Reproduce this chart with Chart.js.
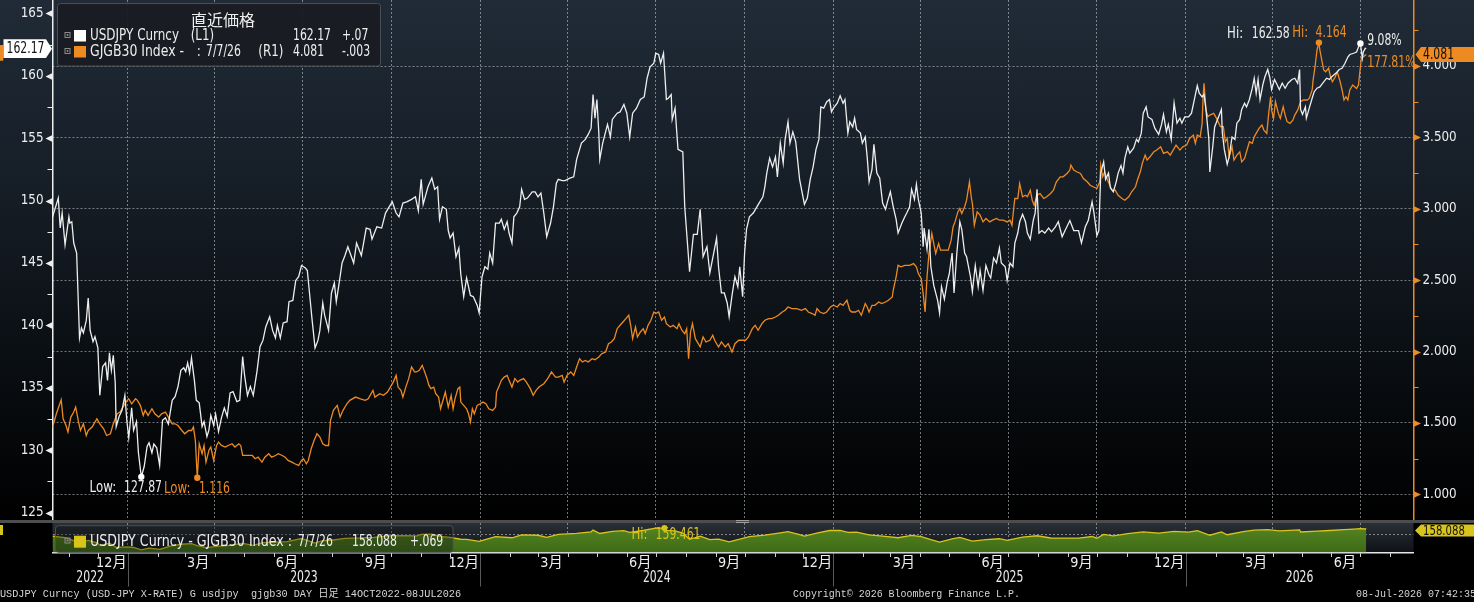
<!DOCTYPE html>
<html lang="ja">
<head>
<meta charset="utf-8">
<title>USDJPY Curncy / GJGB30 Index</title>
<script src="https://cdn.jsdelivr.net/npm/chart.js@4.4.1/dist/chart.umd.min.js"></script>
<style>
html,body{margin:0;padding:0;background:#000;width:1474px;height:602px;overflow:hidden;}
#top{position:absolute;left:0;top:0;width:1474px;height:520px;background:linear-gradient(to bottom,#202b37 0%,#161e27 35%,#0a0e12 70%,#000 100%);}
#sep{position:absolute;left:0;top:520px;width:1474px;height:3px;background:#4d4d4d;}
#grip{position:absolute;left:736px;top:520px;width:13px;height:3px;border-top:1px solid #a0a0a0;border-bottom:1px solid #a0a0a0;box-sizing:border-box;}
#bot{position:absolute;left:0;top:523px;width:1474px;height:79px;background:#000;}
</style>
</head>
<body>
<div id="top"><canvas id="mainChart"></canvas></div>
<div id="sep"></div><div id="grip"></div>
<div id="bot"><canvas id="spreadChart"></canvas></div>
<script>
// ---------------- DATA (x = days since 2023-01-01) ----------------
const usdDays = [
-78,-72,-70,-68,-65,-61,-60,-58,-56,-53,
-50,-48,-46,-43,-41,-39,-36,-34,-31,-29,
-26,-23,-21,-19,-17,-15,-13,-12,-9,-6,
-3,-1,1,4,6,9,11,14,17,20,
22,25,27,30,33,36,39,42,46,49,
52,55,58,60,62,64,66,69,71,74,
77,79,82,84,86,89,91,94,97,100,
103,106,109,113,116,119,121,124,127,130,
134,137,140,143,147,150,153,155,158,161,
165,167,171,174,177,180,184,186,189,191,
194,197,199,202,204,208,211,214,216,219,
222,225,228,234,237,242,247,251,253,258,
263,267,270,274,278,281,285,289,294,298,
301,304,306,311,315,318,321,323,326,330,
332,334,337,340,343,345,348,351,355,358,
362,364,367,370,373,375,378,381,385,387,
390,393,395,398,400,403,406,408,411,414,
419,422,425,428,431,434,438,441,444,446,
450,453,458,462,465,470,474,477,480,482,
484,486,488,489,492,495,497,500,502,507,
510,514,517,520,523,527,531,535,538,541,
545,547,550,552,555,558,560,563,564,567,
570,575,577,582,586,590,593,596,600,603,
607,610,612,615,618,621,623,626,629,632,
634,637,639,641,644,648,651,654,658,660,
662,665,668,671,673,676,679,681,684,686,
689,692,696,698,701,704,707,710,713,716,
718,721,724,727,729,731,735,738,741,743,
746,748,751,753,755,759,761,764,766,768,
771,773,776,779,782,785,787,790,793,796,
798,802,805,807,810,812,815,817,819,822,
824,825,828,830,832,835,837,839,841,843,
846,849,851,854,856,859,862,864,867,869,
873,875,878,881,883,886,889,892,894,897,
900,903,905,909,911,914,917,919,922,924,
927,930,932,935,938,940,942,944,947,950,
954,957,961,964,968,971,976,980,985,988,
992,995,999,1001,1004,1006,1008,1011,1013,1016,
1018,1021,1024,1026,1029,1031,1033,1036,1038,1042,
1045,1047,1050,1052,1055,1057,1061,1064,1068,1071,
1073,1076,1078,1081,1084,1087,1090,1092,1095,1099,
1102,1105,1108,1110,1113,1115,1117,1120,1121,1124,
1126,1129,1133,1134,1136,1139,1141,1144,1147,1149,
1152,1154,1157,1159,1162,1165,1167,1169,1171,1173,
1176,1178,1181,1183,1185,1188,1190,1193,1196,1199,
1202,1206,1209,1212,1214,1215,1217,1220,1221,1224,
1227,1229,1232,1235,1237,1239,1242,1245,1247,1250,
1253,1255,1258,1261,1264,1266,1270,1273,1275,1277,
1279,1280,1282,1283];
const usdVals = [
148.67,150.2,147.8,149.0,146.45,148.7,148.2,148.3,146.6,145.8,
139.0,139.8,139.4,140.4,142.2,139.6,138.7,139.1,138.2,134.4,
136.7,137.0,135.6,137.8,136.4,137.6,135.4,131.9,132.7,133.2,
134.4,132.4,131.0,133.4,131.6,132.3,129.8,127.87,128.7,130.3,
130.6,129.8,130.5,130.2,128.8,132.4,132.6,132.1,134.0,134.3,
135.1,136.4,136.6,136.3,137.0,136.2,137.4,135.6,134.0,133.8,
131.9,132.3,131.1,131.6,132.8,132.0,132.9,131.5,132.6,133.4,
132.7,134.6,134.7,133.9,134.0,137.5,136.0,134.4,135.1,134.4,
136.4,138.3,138.8,139.9,140.7,139.6,139.0,140.0,139.0,140.2,
140.3,141.9,142.0,143.6,143.9,144.8,144.6,144.4,142.0,140.4,
138.2,138.8,139.6,141.8,140.8,139.6,142.6,143.4,141.9,143.4,
145.0,145.6,146.3,145.0,146.6,145.6,147.8,147.7,146.9,147.9,
147.8,149.0,149.4,149.9,149.0,148.7,149.8,149.9,150.1,150.3,
149.2,151.7,149.7,151.1,151.8,150.9,151.1,148.5,149.5,149.3,
147.6,147.0,147.4,145.5,146.2,144.1,142.3,143.8,142.4,142.3,
141.6,141.0,143.9,144.7,144.5,145.8,145.0,148.2,148.2,148.5,
147.7,148.3,147.4,146.6,148.7,149.0,149.5,150.9,150.1,150.2,
150.7,150.7,150.3,150.6,149.0,147.1,148.2,149.5,151.4,151.7,
151.6,151.6,151.8,151.9,153.3,154.6,154.9,155.3,155.8,158.5,
156.6,158.1,155.4,153.3,154.6,155.5,156.1,155.1,156.5,157.0,
157.1,157.7,157.0,155.1,157.0,157.4,158.1,158.3,159.8,160.7,
161.0,161.8,161.7,161.0,161.8,158.1,158.2,158.5,156.5,157.4,
154.1,153.9,149.5,144.3,147.3,147.3,149.3,145.5,146.3,144.2,
145.8,147.0,144.7,142.6,142.6,141.8,140.7,142.4,143.9,143.1,
144.7,142.3,145.8,147.7,148.7,149.0,149.4,149.8,150.3,151.1,
152.2,153.4,152.7,153.5,151.9,154.6,153.0,154.9,156.3,154.6,
155.5,154.7,151.7,150.9,149.7,150.2,151.7,152.7,154.1,154.9,
157.5,157.4,157.9,158.1,157.1,157.4,157.8,158.4,157.8,158.1,
155.4,156.3,155.9,156.6,155.7,155.4,154.6,155.1,153.5,151.5,
152.5,154.5,152.2,151.8,149.8,149.3,149.9,150.7,149.5,148.5,
147.4,148.2,148.7,149.0,149.5,150.9,150.1,151.3,150.1,149.0,
146.3,147.8,146.1,147.7,144.7,143.2,142.6,142.0,141.0,143.1,
142.1,143.5,144.1,145.8,142.6,145.9,148.3,147.7,145.8,145.5,
143.9,142.7,144.8,143.1,144.4,142.8,144.8,144.1,143.8,145.4,
145.0,146.2,145.0,144.7,143.6,145.0,144.7,146.6,147.4,148.3,
148.9,148.3,147.4,146.9,148.4,149.0,150.9,147.4,147.6,147.4,
147.8,147.5,147.9,148.3,147.1,147.6,148.4,147.6,147.6,146.6,
147.9,148.4,149.9,149.0,147.2,147.6,152.2,153.1,151.7,152.2,
151.0,150.7,151.5,152.2,152.8,152.2,153.4,154.3,153.8,154.2,
154.9,154.7,155.4,157.0,157.5,156.7,156.5,155.8,155.3,156.1,
156.9,155.5,156.1,154.9,157.8,156.2,156.6,156.2,156.7,156.7,
157.0,158.1,159.2,158.6,158.3,158.5,157.3,154.9,152.3,154.3,
155.9,156.5,157.3,155.4,154.1,152.9,153.5,155.1,154.9,156.2,
156.5,157.3,157.8,157.5,158.1,159.0,159.8,158.6,159.7,158.1,
159.3,159.9,160.5,159.9,158.9,159.7,159.4,158.9,159.4,159.0,
159.4,159.7,159.8,159.4,160.5,157.3,156.9,157.5,156.6,157.4,
158.2,158.7,159.0,159.1,159.3,159.5,159.8,159.7,159.9,160.1,
160.3,160.5,160.6,161.0,161.5,161.7,161.8,161.9,162.3,162.58,
161.4,161.9,162.2,162.17];

const jgbDays = [
-78,-74,-69,-67,-64,-62,-59,-56,-54,-51,
-49,-46,-43,-41,-37,-34,-32,-29,-25,-22,
-18,-15,-11,-8,-5,-2,1,4,8,10,
13,16,18,21,25,28,32,35,39,42,
46,49,52,56,59,63,66,68,70,72,
74,77,79,81,84,86,89,92,94,97,
101,104,108,111,115,117,119,123,129,132,
135,139,142,146,149,153,156,160,163,166,
170,173,177,180,182,185,187,190,193,196,
199,202,205,208,210,213,217,220,223,227,
230,236,241,246,249,254,256,261,265,269,
272,275,278,280,283,285,288,291,294,297,
299,302,305,307,310,312,314,317,319,322,
324,327,329,332,335,337,339,342,344,345,
348,351,353,355,357,359,362,365,368,371,
374,378,381,382,385,387,390,393,395,398,
401,404,406,410,413,417,420,423,426,431,
435,439,443,446,450,452,455,459,462,465,
468,471,474,477,481,484,488,491,495,498,
501,504,507,510,513,516,519,521,523,526,
528,531,534,536,539,542,545,547,550,553,
556,558,562,565,569,571,574,577,579,581,
583,585,588,591,593,596,599,603,606,608,
612,615,619,622,626,629,633,636,640,643,
647,650,653,657,660,664,667,671,674,678,
681,684,688,693,698,702,705,709,712,714,
717,721,724,728,731,735,738,741,745,748,
750,754,757,760,764,766,768,771,774,778,
781,785,788,792,793,796,798,801,805,810,
814,817,819,822,824,826,828,830,833,835,
837,840,842,846,850,853,855,857,860,862,
864,867,869,872,874,875,877,880,883,886,
889,893,896,900,903,907,911,914,916,918,
919,922,924,927,930,932,935,937,939,942,
945,949,952,956,959,962,966,969,973,976,
977,980,983,987,990,994,997,1000,1004,1007,
1008,1010,1012,1015,1018,1020,1023,1026,1030,1033,
1037,1040,1044,1046,1049,1051,1054,1056,1059,1063,
1066,1070,1073,1077,1080,1083,1086,1090,1093,1097,
1100,1104,1106,1108,1111,1113,1114,1115,1117,1119,
1121,1125,1128,1132,1135,1137,1139,1141,1144,1146,
1149,1152,1154,1157,1159,1162,1165,1167,1170,1172,
1175,1177,1180,1182,1184,1185,1187,1189,1192,1194,
1197,1199,1201,1204,1207,1209,1212,1215,1218,1222,
1224,1227,1228,1230,1232,1234,1235,1237,1239,1241,
1244,1246,1248,1251,1253,1256,1258,1260,1262,1264,
1266,1269,1271,1273,1275,1277,1278,1280,1283];
const jgbVals = [
1.469,1.564,1.662,1.529,1.482,1.436,1.541,1.576,1.611,1.506,
1.447,1.494,1.412,1.447,1.471,1.506,1.529,1.494,1.459,1.412,
1.424,1.494,1.564,1.576,1.611,1.646,1.669,1.634,1.669,1.658,
1.623,1.553,1.588,1.553,1.599,1.564,1.541,1.564,1.576,1.541,
1.494,1.494,1.482,1.447,1.424,1.447,1.447,1.471,1.377,1.116,
1.354,1.284,1.342,1.225,1.307,1.331,1.237,1.342,1.366,1.342,
1.331,1.342,1.354,1.331,1.354,1.342,1.272,1.272,1.272,1.249,
1.260,1.225,1.260,1.284,1.260,1.272,1.284,1.272,1.260,1.237,
1.225,1.214,1.202,1.237,1.249,1.214,1.237,1.319,1.377,1.424,
1.401,1.354,1.342,1.342,1.517,1.588,1.623,1.541,1.588,1.634,
1.658,1.681,1.669,1.658,1.669,1.728,1.681,1.705,1.693,1.716,
1.751,1.786,1.833,1.751,1.728,1.681,1.751,1.810,1.892,1.857,
1.857,1.868,1.903,1.868,1.810,1.763,1.740,1.751,1.705,1.681,
1.599,1.669,1.716,1.611,1.693,1.599,1.669,1.740,1.751,1.646,
1.623,1.599,1.564,1.506,1.599,1.564,1.623,1.634,1.646,1.634,
1.599,1.588,1.611,1.716,1.763,1.798,1.821,1.833,1.798,1.751,
1.810,1.786,1.798,1.810,1.786,1.740,1.693,1.728,1.751,1.775,
1.810,1.857,1.821,1.821,1.833,1.786,1.833,1.857,1.833,1.892,
1.950,1.927,1.938,1.927,1.950,1.943,1.962,1.985,1.997,2.055,
2.067,2.090,2.160,2.184,2.207,2.231,2.254,2.184,2.090,2.172,
2.102,2.137,2.160,2.125,2.184,2.219,2.277,2.266,2.277,2.219,
2.242,2.195,2.172,2.184,2.160,2.195,2.149,2.125,2.160,1.950,
2.137,2.195,2.090,2.055,2.032,2.102,2.067,2.079,2.114,2.079,
2.032,2.067,2.032,2.055,1.997,2.055,2.079,2.079,2.079,2.102,
2.160,2.184,2.149,2.195,2.219,2.231,2.231,2.242,2.254,2.277,
2.289,2.312,2.301,2.301,2.289,2.301,2.277,2.266,2.254,2.301,
2.277,2.266,2.277,2.312,2.324,2.312,2.336,2.324,2.359,2.289,
2.277,2.277,2.289,2.254,2.336,2.312,2.277,2.324,2.324,2.347,
2.336,2.347,2.359,2.382,2.429,2.523,2.604,2.593,2.604,2.604,
2.616,2.593,2.546,2.511,2.406,2.277,2.523,2.686,2.827,2.756,
2.686,2.756,2.710,2.710,2.710,2.780,2.873,2.908,2.978,3.002,
2.967,3.014,3.060,3.189,3.072,3.037,2.885,2.978,2.955,2.908,
2.932,2.908,2.920,2.932,2.920,2.920,2.908,2.920,2.885,3.014,
3.072,3.072,3.177,3.084,3.095,3.084,3.130,3.060,3.025,3.095,
3.107,3.072,3.084,3.107,3.130,3.189,3.224,3.224,3.247,3.271,
3.306,3.271,3.259,3.247,3.212,3.189,3.165,3.154,3.142,3.189,
3.306,3.224,3.259,3.201,3.154,3.130,3.130,3.095,3.072,3.060,
3.084,3.119,3.154,3.201,3.259,3.317,3.376,3.341,3.364,3.399,
3.411,3.434,3.388,3.399,3.376,3.411,3.446,3.411,3.434,3.446,
3.493,3.516,3.458,3.516,3.504,3.598,3.785,3.878,3.691,3.645,
3.656,3.668,3.633,3.575,3.575,3.469,3.493,3.364,3.434,3.341,
3.376,3.399,3.329,3.353,3.399,3.469,3.458,3.504,3.540,3.563,
3.586,3.551,3.528,3.668,3.785,3.691,3.633,3.750,3.668,3.633,
3.715,3.656,3.610,3.598,3.621,3.656,3.691,3.750,3.762,3.762,
3.773,3.832,3.902,3.995,4.112,4.164,4.112,4.042,3.972,3.960,
3.984,3.925,3.890,3.925,3.960,3.890,3.832,3.762,3.785,3.762,
3.832,3.867,3.855,3.843,3.867,3.995,4.054,4.065,4.081];

const spreadDays = [
-78,-65,-50,-41,-31,-29,-19,-12,0,6,
14,22,33,45,55,66,72,82,90,105,
119,130,140,150,165,180,194,202,211,225,
240,255,270,285,300,304,315,323,334,345,
351,364,381,398,408,425,434,446,465,480,
482,489,502,514,520,535,547,556,558,567,
575,582,593,603,612,623,634,644,660,676,
684,696,701,716,727,738,746,755,768,782,
798,812,822,832,841,854,862,875,889,903,
911,927,942,956,970,985,999,1004,1011,1021,
1036,1052,1068,1084,1099,1108,1121,1133,1139,1157,
1167,1181,1193,1214,1215,1232,1245,1260,1270,1277,
1283];
const spreadVals = [
147.2,145.0,137.5,140.8,136.7,132.9,136.4,130.3,130.8,130.0,
126.3,129.0,127.3,132.5,134.9,135.9,132.8,129.9,131.2,133.3,
136.2,133.2,137.5,138.3,139.0,143.6,136.8,140.4,141.0,144.0,
144.5,145.5,147.7,148.1,147.6,149.8,150.1,146.8,145.3,142.5,
142.2,139.4,146.6,144.8,149.1,148.6,145.3,149.9,151.4,153.8,
156.5,151.3,154.4,155.5,152.9,156.2,159.3,159.461,155.9,155.2,
151.8,142.4,147.3,142.1,142.7,138.6,142.6,146.6,148.9,152.3,
154.0,149.4,147.4,152.6,155.8,156.1,153.1,153.4,149.2,147.4,
144.8,148.3,146.5,142.0,138.3,143.0,145.3,139.7,141.9,143.3,
140.7,145.8,147.8,144.4,144.3,144.3,146.7,144.1,149.9,147.6,
151.2,153.7,151.9,154.4,153.2,155.7,148.6,153.7,149.4,154.4,
156.3,157.0,155.3,156.8,153.6,154.9,155.8,157.2,157.9,158.6,
158.088];

const legendTitle = '直近価格';
const usdName = 'USDJPY Curncy', jgbName = 'GJGB30 Index -', spreadName = 'USDJPY Curncy - GJGB30 Index :';
const lastDate = '7/7/26';
const usdChange = '+.07', jgbChange = '-.003', spreadChange = '+.069';
const monthLabelMonths = [12, 3, 6, 9];
const yearLabels = [2022, 2023, 2024, 2025, 2026];
const footerLeft = 'USDJPY Curncy (USD-JPY X-RATE) G usdjpy  gjgb30 DAY 日足 14OCT2022-08JUL2026';
const footerMid = 'Copyright© 2026 Bloomberg Finance L.P.';
const footerRight = '08-Jul-2026 07:42:35';

// ---------------- helpers ----------------
const FONT = '"DejaVu Sans Condensed","Liberation Sans","Noto Sans CJK JP",sans-serif';
const CJK = '"Noto Sans CJK JP",sans-serif';
const MONO = '"Liberation Mono","DejaVu Sans Mono","Noto Sans CJK JP",monospace';
const WHITE = '#eeeeee', ORANGE = '#ee8a22', YELLOW = '#d9c41c', GRID = 'rgba(205,210,215,0.55)';

// condensing factors: the terminal font has narrow digits (~6.9px) but relatively wider letters
const _m = document.createElement('canvas').getContext('2d');
_m.font = '15px ' + FONT;
const DIGIT15 = _m.measureText('0123456789').width / 10;
const SX_D = 6.9 / DIGIT15;
const SX_A = SX_D * 1.12;
const TICK_SIZE = Math.max(11, Math.min(15, 15 * 7.6 / DIGIT15));
function sxFor(s) {
  let nd = 0, na = 0;
  for (const ch of s) { if (/[0-9.+\-\/:%, ]/.test(ch)) nd++; else na++; }
  return (nd * SX_D + na * SX_A) / Math.max(1, nd + na);
}

const DAY0 = Date.UTC(2023, 0, 1);
const dayOf = (y, m, d) => Math.round((Date.UTC(y, m - 1, d) - DAY0) / 864e5);
const X_MIN = -78, X_MAX = 1332;
const quarterStarts = [], monthStarts = [], labelTicks = [];
for (let y = 2022; y <= 2026; y++) for (let m = 1; m <= 12; m++) {
  const d = dayOf(y, m, 1);
  if (d >= X_MIN && d <= X_MAX) { monthStarts.push(d); if ((m - 1) % 3 === 0) quarterStarts.push(d); }
  const mid = dayOf(y, m, 15);
  if (monthLabelMonths.includes(m) && mid >= X_MIN && mid <= X_MAX) labelTicks.push({ value: mid, label: m + '月' });
}
const argMin = a => a.indexOf(Math.min(...a));
const argMax = a => a.indexOf(Math.max(...a));
const isHalf = v => Math.abs(v * 2 - Math.round(v * 2)) < 1e-6;
function fixW(w) { return s => { s.width = w; s.paddingTop = 0; s.paddingBottom = 0; }; }

function rrect(ctx, x, y, w, h, r) {
  ctx.beginPath(); ctx.moveTo(x + r, y); ctx.lineTo(x + w - r, y); ctx.quadraticCurveTo(x + w, y, x + w, y + r);
  ctx.lineTo(x + w, y + h - r); ctx.quadraticCurveTo(x + w, y + h, x + w - r, y + h); ctx.lineTo(x + r, y + h);
  ctx.quadraticCurveTo(x, y + h, x, y + h - r); ctx.lineTo(x, y + r); ctx.quadraticCurveTo(x, y, x + r, y); ctx.closePath();
}
function text(ctx, s, x, y, color, opt = {}) {
  ctx.save();
  ctx.font = (opt.size || 15) + 'px ' + (opt.family || FONT);
  ctx.fillStyle = color; ctx.textAlign = opt.align || 'left'; ctx.textBaseline = 'middle';
  let k = opt.sx !== undefined ? opt.sx : sxFor(s);
  if (opt.fit) k = opt.fit / ctx.measureText(s).width;
  ctx.translate(x, y); ctx.scale(k, 1); ctx.fillText(s, 0, 0);
  ctx.restore();
}
function plusIcon(ctx, x, y) {
  ctx.save(); ctx.strokeStyle = '#8c8c8c'; ctx.lineWidth = 1; ctx.strokeRect(x + 0.5, y + 0.5, 5, 5);
  ctx.beginPath(); ctx.moveTo(x + 2, y + 3); ctx.lineTo(x + 4, y + 3); ctx.moveTo(x + 3, y + 2); ctx.lineTo(x + 3, y + 4); ctx.stroke(); ctx.restore();
}
function dot(ctx, x, y, r, c) { ctx.save(); ctx.fillStyle = c; ctx.beginPath(); ctx.arc(x, y, r, 0, Math.PI * 2); ctx.fill(); ctx.restore(); }

Chart.defaults.font.family = FONT;

// ---------------- main panel decorations ----------------
const mainDecor = {
  id: 'mainDecor',
  afterDraw(chart) {
    const { ctx, chartArea: a, scales: { x, yL, yR } } = chart;
    ctx.save();
    yL.ticks.forEach(t => {
      const y = Math.round(yL.getPixelForValue(t.value)) + 0.5;
      ctx.fillStyle = WHITE; ctx.strokeStyle = WHITE; ctx.lineWidth = 1;
      if (t.value % 5 === 0) { ctx.beginPath(); ctx.moveTo(a.left - 7, y); ctx.lineTo(a.left, y - 3.5); ctx.lineTo(a.left, y + 3.5); ctx.closePath(); ctx.fill(); }
      else { ctx.beginPath(); ctx.moveTo(a.left - 5, y); ctx.lineTo(a.left, y); ctx.stroke(); }
    });
    yR.ticks.forEach(t => {
      const y = Math.round(yR.getPixelForValue(t.value)) + 0.5;
      ctx.fillStyle = ORANGE; ctx.strokeStyle = ORANGE; ctx.lineWidth = 1;
      if (isHalf(t.value)) { ctx.beginPath(); ctx.moveTo(a.right, y - 3.5); ctx.lineTo(a.right + 7.5, y); ctx.lineTo(a.right, y + 3.5); ctx.closePath(); ctx.fill(); }
      else { ctx.beginPath(); ctx.moveTo(a.right, y); ctx.lineTo(a.right + 5, y); ctx.stroke(); }
    });

    // legend box
    rrect(ctx, 57.5, 3.5, 323, 62.5, 3);
    ctx.fillStyle = 'rgba(25,29,34,0.94)'; ctx.fill();
    ctx.strokeStyle = '#4a4f55'; ctx.lineWidth = 1; ctx.stroke();
    text(ctx, legendTitle, 223, 20, WHITE, { size: 16, align: 'center', family: CJK, sx: 1 });
    const uLast = usdVals[usdVals.length - 1], jLast = jgbVals[jgbVals.length - 1];
    plusIcon(ctx, 64.5, 32); ctx.fillStyle = '#ffffff'; ctx.fillRect(74, 30, 12, 11.5);
    text(ctx, usdName, 90, 36, WHITE, { fit: 89 }); text(ctx, '(L1)', 190.7, 36, WHITE);
    text(ctx, uLast.toFixed(2), 293, 36, WHITE); text(ctx, usdChange, 342, 36, WHITE);
    plusIcon(ctx, 64.5, 48); ctx.fillStyle = ORANGE; ctx.fillRect(74, 46, 12, 11.5);
    text(ctx, jgbName, 90, 52, WHITE, { fit: 94 }); text(ctx, ':', 197, 52, WHITE); text(ctx, lastDate, 206, 52, WHITE);
    text(ctx, '(R1)', 258.3, 52, WHITE); text(ctx, jLast.toFixed(3), 293, 52, WHITE); text(ctx, jgbChange, 342, 52, WHITE);

    // lows
    let i = argMin(usdVals), px = x.getPixelForValue(usdDays[i]), py = yL.getPixelForValue(usdVals[i]);
    dot(ctx, px, py, 3.2, '#ffffff');
    text(ctx, 'Low:', px - 51.7, py + 11, WHITE); text(ctx, usdVals[i].toFixed(2), px + 20.7, py + 11, WHITE, { align: 'right' });
    i = argMin(jgbVals); px = x.getPixelForValue(jgbDays[i]); py = yR.getPixelForValue(jgbVals[i]);
    dot(ctx, px, py, 3.2, ORANGE);
    text(ctx, 'Low:', px - 33.3, py + 11, ORANGE); text(ctx, jgbVals[i].toFixed(3), px + 32.7, py + 11, ORANGE, { align: 'right' });
    // highs
    i = argMax(usdVals); px = x.getPixelForValue(usdDays[i]); py = yL.getPixelForValue(usdVals[i]);
    dot(ctx, px, py, 3.2, '#ffffff');
    text(ctx, 'Hi:', px - 133.3, py - 9, WHITE); text(ctx, usdVals[i].toFixed(2), px - 70.7, py - 9, WHITE, { align: 'right' });
    i = argMax(jgbVals); px = x.getPixelForValue(jgbDays[i]); py = yR.getPixelForValue(jgbVals[i]);
    dot(ctx, px, py, 3.2, ORANGE);
    text(ctx, 'Hi:', px - 26.6, py - 9.4, ORANGE); text(ctx, jgbVals[i].toFixed(3), px + 27.7, py - 9.4, ORANGE, { align: 'right' });

    // % change labels at last points
    const lx = x.getPixelForValue(usdDays[usdDays.length - 1]);
    const uy = yL.getPixelForValue(uLast), jy = yR.getPixelForValue(jLast);
    const uPct = (uLast / usdVals[0] - 1) * 100, jPct = (jLast / jgbVals[0] - 1) * 100;
    text(ctx, uPct.toFixed(2) + '%', lx + 1, uy - 8, WHITE);
    text(ctx, jPct.toFixed(2) + '%', lx + 1, jy + 9, ORANGE);

    // last value boxes
    ctx.fillStyle = ORANGE; ctx.fillRect(0, uy - 3.6, 3.3, 15.7);
    ctx.beginPath(); ctx.moveTo(3.5, uy - 9.3); ctx.lineTo(46, uy - 9.3); ctx.lineTo(a.left - 0.5, uy); ctx.lineTo(46, uy + 9.3); ctx.lineTo(3.5, uy + 9.3); ctx.closePath();
    ctx.fillStyle = '#ffffff'; ctx.fill();
    text(ctx, uLast.toFixed(2), 25.5, uy, '#111111', { align: 'center' });
    ctx.beginPath(); ctx.moveTo(a.right + 2, jy); ctx.lineTo(1421, jy - 7.5); ctx.lineTo(1474, jy - 7.5); ctx.lineTo(1474, jy + 7.5); ctx.lineTo(1421, jy + 7.5); ctx.closePath();
    ctx.fillStyle = ORANGE; ctx.fill();
    text(ctx, jLast.toFixed(3), 1423, jy + 0.5, '#111111');
    ctx.restore();
  }
};

new Chart(document.getElementById('mainChart'), {
  type: 'line',
  data: {
    datasets: [
      { label: 'USDJPY Curncy', yAxisID: 'yL', data: usdDays.map((d, k) => ({ x: d, y: usdVals[k] })), borderColor: WHITE, borderWidth: 1.3, pointRadius: 0, tension: 0 },
      { label: 'GJGB30 Index', yAxisID: 'yR', data: jgbDays.map((d, k) => ({ x: d, y: jgbVals[k] })), borderColor: ORANGE, borderWidth: 1.3, pointRadius: 0, tension: 0 }
    ]
  },
  options: {
    responsive: true, maintainAspectRatio: false, animation: false, events: [],
    layout: { padding: 0, autoPadding: false },
    plugins: { legend: { display: false }, tooltip: { enabled: false } },
    scales: {
      x: {
        type: 'linear', min: X_MIN, max: X_MAX,
        afterBuildTicks: s => { s.ticks = quarterStarts.map(v => ({ value: v })); },
        ticks: { display: false },
        grid: { color: GRID, lineWidth: 1, drawTicks: false },
        border: { display: false, dash: [2, 2] },
        afterFit: s => { s.height = 0; s.paddingLeft = 0; s.paddingRight = 0; }
      },
      yL: {
        type: 'linear', position: 'left', min: 124.415, max: 166.065,
        afterBuildTicks: s => { const t = []; for (let v = 125; v <= 165; v += 2.5) t.push({ value: v }); s.ticks = t; },
        ticks: { color: WHITE, font: { family: FONT, size: TICK_SIZE }, padding: 9, callback: v => (v % 5 === 0 ? String(v) : '') },
        grid: { display: true, drawOnChartArea: false, drawTicks: false },
        border: { display: true, color: WHITE, width: 1.5 },
        afterFit: fixW(52.5)
      },
      yR: {
        type: 'linear', position: 'right', min: 0.82, max: 4.4623,
        afterBuildTicks: s => { const t = []; for (let k = 4; k <= 17; k++) t.push({ value: k * 0.25 }); s.ticks = t; },
        ticks: { color: WHITE, font: { family: FONT, size: TICK_SIZE }, padding: 9, callback: v => (isHalf(v) ? v.toFixed(3) : '') },
        grid: { display: true, drawOnChartArea: true, drawTicks: false, lineWidth: 1, color: c => (c.tick && isHalf(c.tick.value) ? GRID : 'rgba(0,0,0,0)') },
        border: { display: true, color: ORANGE, width: 1.5, dash: [2, 2] },
        afterFit: fixW(60.5)
      }
    }
  },
  plugins: [mainDecor]
});

// ---------------- spread panel ----------------
const spreadDecor = {
  id: 'spreadDecor',
  beforeDraw(chart) {
    const { ctx, chartArea: a } = chart;
    const g = ctx.createLinearGradient(0, a.top, 0, a.bottom);
    g.addColorStop(0, '#2a3037'); g.addColorStop(1, '#0e1216');
    ctx.save(); ctx.fillStyle = g; ctx.fillRect(a.left, a.top, a.right - a.left, a.bottom - a.top); ctx.restore();
  },
  afterDraw(chart) {
    const { ctx, chartArea: a, scales: { x, yS } } = chart;
    ctx.save();
    ctx.strokeStyle = '#d0d0d0'; ctx.lineWidth = 1;
    monthStarts.forEach(d => { const px = Math.round(x.getPixelForValue(d)) + 0.5; ctx.beginPath(); ctx.moveTo(px, a.bottom + 0.5); ctx.lineTo(px, a.bottom + 4.5); ctx.stroke(); });
    yearLabels.forEach(y => {
      const s = Math.max(X_MIN, dayOf(y, 1, 1)), e = Math.min(X_MAX, dayOf(y + 1, 1, 1));
      const xs = x.getPixelForValue(s), xe = x.getPixelForValue(e);
      if (dayOf(y, 1, 1) > X_MIN) { ctx.strokeStyle = '#5a5a5a'; ctx.beginPath(); ctx.moveTo(Math.round(xs) + 0.5, a.bottom + 1); ctx.lineTo(Math.round(xs) + 0.5, a.bottom + 34); ctx.stroke(); }
      text(ctx, String(y), (xs + xe) / 2, 55.3, WHITE, { align: 'center' });
    });
    rrect(ctx, 55.5, 2.7, 397.5, 26.6, 3);
    ctx.fillStyle = 'rgba(12,14,16,0.35)'; ctx.fill(); ctx.strokeStyle = '#4a4f55'; ctx.lineWidth = 1; ctx.stroke();
    const sLast = spreadVals[spreadVals.length - 1];
    plusIcon(ctx, 64.5, 14.5); ctx.fillStyle = YELLOW; ctx.fillRect(74, 12.7, 12, 12);
    text(ctx, spreadName, 90, 18.7, WHITE, { fit: 202 }); text(ctx, lastDate, 298, 18.7, WHITE);
    text(ctx, sLast.toFixed(3), 352, 18.7, WHITE); text(ctx, spreadChange, 410, 18.7, WHITE);
    const i = argMax(spreadVals), px = x.getPixelForValue(spreadDays[i]), py = yS.getPixelForValue(spreadVals[i]);
    dot(ctx, px, py, 3, YELLOW);
    text(ctx, 'Hi:', px - 33, py + 7, YELLOW); text(ctx, spreadVals[i].toFixed(3), px + 36, py + 7, YELLOW, { align: 'right' });
    const ly = yS.getPixelForValue(sLast) + 1.5;
    ctx.fillStyle = YELLOW; ctx.fillRect(0, 2, 3, 10);
    ctx.beginPath(); ctx.moveTo(a.right + 1.5, ly); ctx.lineTo(1421, ly - 6.1); ctx.lineTo(1474, ly - 6.1); ctx.lineTo(1474, ly + 6.1); ctx.lineTo(1421, ly + 6.1); ctx.closePath(); ctx.fill();
    text(ctx, sLast.toFixed(3), 1423, ly + 0.5, '#111111', { size: 14 });
    text(ctx, footerLeft, 0, 71.3, '#d6d6d6', { family: MONO, size: 11, fit: 461 });
    text(ctx, footerMid, 793, 71.3, '#d6d6d6', { family: MONO, size: 11, fit: 227 });
    text(ctx, footerRight, 1356, 71.3, '#d6d6d6', { family: MONO, size: 11, fit: 120 });
    ctx.restore();
  }
};

new Chart(document.getElementById('spreadChart'), {
  type: 'line',
  data: {
    datasets: [{
      label: 'USDJPY Curncy - GJGB30 Index', yAxisID: 'yS', xAxisID: 'x',
      data: spreadDays.map((d, k) => ({ x: d, y: spreadVals[k] })),
      borderColor: YELLOW, borderWidth: 1.3, pointRadius: 0, tension: 0, fill: 'start',
      backgroundColor: c => { const a = c.chart.chartArea; if (!a) return '#4c7a1c'; const g = c.chart.ctx.createLinearGradient(0, a.top, 0, a.bottom); g.addColorStop(0, '#578823'); g.addColorStop(1, '#3e6a15'); return g; }
    }]
  },
  options: {
    responsive: true, maintainAspectRatio: false, animation: false, events: [],
    layout: { padding: 0, autoPadding: false },
    plugins: { legend: { display: false }, tooltip: { enabled: false } },
    scales: {
      x: {
        type: 'linear', position: 'bottom', min: X_MIN, max: X_MAX,
        afterBuildTicks: s => { s.ticks = labelTicks.map(t => ({ value: t.value })); },
        ticks: { color: WHITE, font: { family: FONT, size: TICK_SIZE + 1 }, padding: 2, maxRotation: 0, autoSkip: false,
                 callback: v => { const t = labelTicks.find(q => q.value === v); return t ? t.label : ''; } },
        grid: { display: true, drawOnChartArea: false, drawTicks: false },
        border: { display: true, color: '#e6e6e6', width: 1.5 },
        afterFit: s => { s.height = 49.5; s.paddingLeft = 0; s.paddingRight = 0; }
      },
      xg: {
        type: 'linear', position: 'top', min: X_MIN, max: X_MAX,
        afterBuildTicks: s => { s.ticks = quarterStarts.map(v => ({ value: v })); },
        ticks: { display: false }, grid: { color: GRID, drawTicks: false }, border: { display: false, dash: [2, 2] },
        afterFit: s => { s.height = 0; s.paddingLeft = 0; s.paddingRight = 0; }
      },
      yS: {
        type: 'linear', position: 'left', min: 122.4, max: 167.2,
        afterBuildTicks: s => { s.ticks = [{ value: 150 }]; },
        ticks: { display: false }, grid: { color: GRID, drawTicks: false }, border: { display: false, dash: [2, 2] },
        afterFit: fixW(52.5)
      },
      ySR: {
        type: 'linear', position: 'right', min: 122.4, max: 167.2,
        ticks: { display: false }, grid: { display: false }, border: { display: false },
        afterFit: fixW(60.5)
      }
    }
  },
  plugins: [spreadDecor]
});
</script>
</body>
</html>
